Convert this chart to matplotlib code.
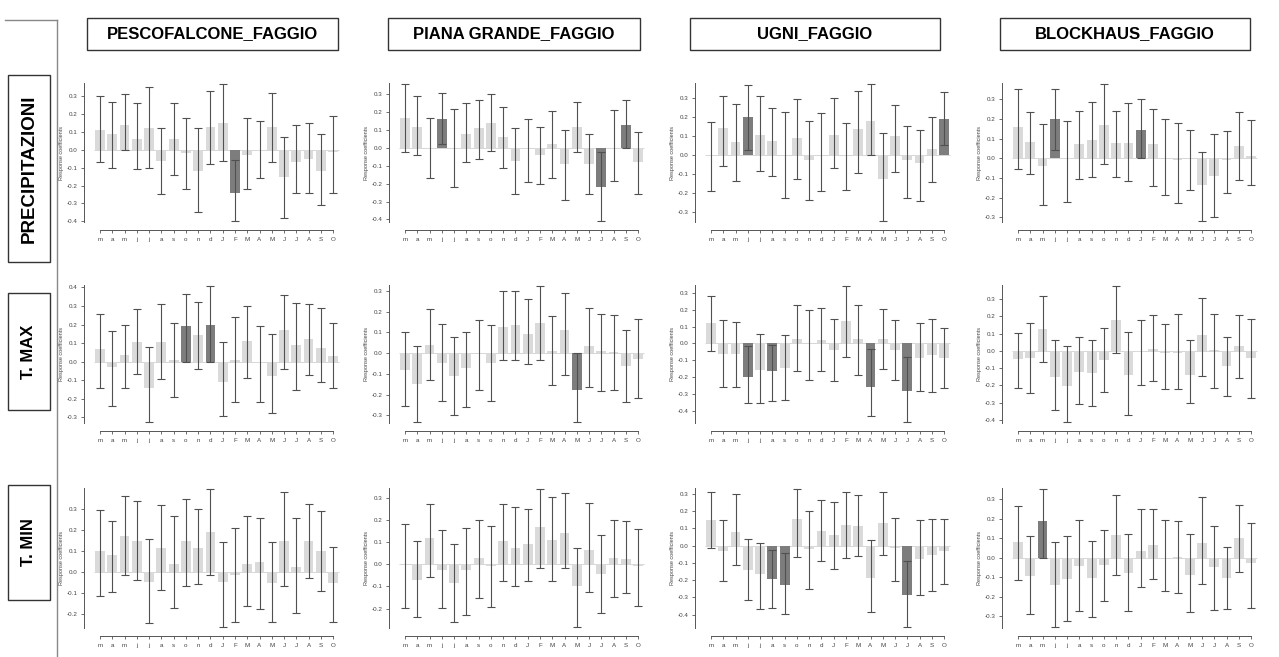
import matplotlib.pyplot as plt
from matplotlib.patches import Rectangle
from matplotlib.lines import Line2D
from matplotlib.ticker import MultipleLocator, FormatStrFormatter

plt.rcParams['axes.unicode_minus'] = False
plt.rcParams['font.family'] = ['Liberation Sans', 'DejaVu Sans']

months = ['m', 'a', 'm', 'j', 'j', 'a', 's', 'o', 'n', 'd',
          'J', 'F', 'M', 'A', 'M', 'J', 'J', 'A', 'S', 'O']
sites = ['PESCOFALCONE_FAGGIO', 'PIANA GRANDE_FAGGIO', 'UGNI_FAGGIO', 'BLOCKHAUS_FAGGIO']
variables = ['PRECIPITAZIONI', 'T. MAX', 'T. MIN']

# ---------------- PRECIPITAZIONI ----------------
pesco_prec_val = [0.11, 0.09, 0.14, 0.06, 0.12, -0.06, 0.06, -0.02, -0.12, 0.13, 0.15, -0.24, -0.03, -0.005, 0.13, -0.15, -0.07, -0.05, -0.12, -0.01]
pesco_prec_low = [-0.07, -0.10, 0.0, -0.11, -0.10, -0.25, -0.14, -0.22, -0.35, -0.08, -0.06, -0.40, -0.22, -0.16, -0.07, -0.38, -0.24, -0.24, -0.31, -0.24]
pesco_prec_up = [0.30, 0.27, 0.31, 0.26, 0.35, 0.12, 0.26, 0.18, 0.12, 0.33, 0.37, -0.055, 0.18, 0.16, 0.32, 0.07, 0.14, 0.15, 0.09, 0.19]
pesco_prec_sig = [11]

piana_prec_val = [0.17, 0.12, 0.0, 0.16, 0.0, 0.08, 0.11, 0.14, 0.06, -0.07, 0.0, -0.04, 0.02, -0.09, 0.12, -0.09, -0.22, 0.0, 0.13, -0.08]
piana_prec_low = [-0.02, -0.04, -0.17, 0.02, -0.22, -0.08, -0.06, -0.015, -0.11, -0.26, -0.19, -0.20, -0.17, -0.29, -0.02, -0.26, -0.41, -0.185, 0.0, -0.26]
piana_prec_up = [0.36, 0.29, 0.17, 0.31, 0.22, 0.25, 0.27, 0.30, 0.23, 0.11, 0.16, 0.12, 0.21, 0.10, 0.26, 0.08, -0.024, 0.215, 0.27, 0.09]
piana_prec_sig = [3, 16, 18]

ugni_prec_val = [0.0, 0.14, 0.065, 0.20, 0.105, 0.07, 0.0, 0.09, -0.03, 0.0, 0.105, 0.0, 0.135, 0.18, -0.13, 0.10, -0.03, -0.045, 0.03, 0.19]
ugni_prec_low = [-0.19, -0.06, -0.14, 0.023, -0.085, -0.11, -0.225, -0.13, -0.24, -0.19, -0.07, -0.185, -0.095, 0.0, -0.35, -0.09, -0.23, -0.245, -0.145, 0.05]
ugni_prec_up = [0.17, 0.31, 0.27, 0.37, 0.31, 0.245, 0.227, 0.296, 0.178, 0.22, 0.30, 0.166, 0.338, 0.374, 0.114, 0.262, 0.149, 0.128, 0.20, 0.33]
ugni_prec_sig = [3, 19]

block_prec_val = [0.16, 0.08, -0.04, 0.20, -0.003, 0.07, 0.09, 0.17, 0.076, 0.076, 0.143, 0.07, 0.0, -0.007, 0.0, -0.135, -0.09, -0.01, 0.06, 0.013]
block_prec_low = [-0.054, -0.079, -0.24, 0.042, -0.224, -0.105, -0.094, -0.029, -0.093, -0.118, 0.0, -0.14, -0.189, -0.229, -0.162, -0.32, -0.30, -0.179, -0.111, -0.135]
block_prec_up = [0.35, 0.236, 0.174, 0.354, 0.187, 0.239, 0.287, 0.378, 0.241, 0.278, 0.30, 0.25, 0.20, 0.179, 0.142, 0.032, 0.121, 0.14, 0.236, 0.192]
block_prec_sig = [3, 10]

# ---------------- T. MAX ----------------
pesco_tmax_val = [0.067, -0.03, 0.035, 0.106, -0.14, 0.106, 0.01, 0.19, 0.143, 0.20, -0.108, 0.007, 0.11, -0.007, -0.078, 0.17, 0.092, 0.12, 0.076, 0.028]
pesco_tmax_low = [-0.143, -0.237, -0.142, -0.067, -0.327, -0.092, -0.189, 0.0, -0.042, 0.0, -0.294, -0.216, -0.088, -0.219, -0.276, -0.039, -0.154, -0.074, -0.108, -0.143]
pesco_tmax_up = [0.258, 0.163, 0.20, 0.281, 0.081, 0.31, 0.209, 0.365, 0.32, 0.409, 0.104, 0.24, 0.30, 0.193, 0.149, 0.359, 0.318, 0.308, 0.287, 0.207]
pesco_tmax_sig = [7, 9]

piana_tmax_val = [-0.084, -0.15, 0.038, -0.047, -0.11, -0.071, 0.0, -0.047, 0.126, 0.133, 0.092, 0.145, 0.008, 0.11, -0.18, 0.032, 0.008, 0.003, -0.06, -0.027]
piana_tmax_low = [-0.257, -0.333, -0.131, -0.23, -0.30, -0.262, -0.178, -0.23, -0.033, -0.033, -0.052, -0.035, -0.152, -0.107, -0.332, -0.163, -0.185, -0.177, -0.234, -0.215]
piana_tmax_up = [0.10, 0.035, 0.213, 0.139, 0.077, 0.10, 0.158, 0.133, 0.30, 0.30, 0.26, 0.324, 0.18, 0.289, 0.0, 0.215, 0.186, 0.183, 0.11, 0.164]
piana_tmax_sig = [14]

ugni_tmax_val = [0.122, -0.062, -0.062, -0.199, -0.159, -0.166, -0.145, 0.023, 0.0, 0.019, -0.039, 0.13, 0.027, -0.257, 0.023, -0.039, -0.284, -0.087, -0.068, -0.087]
ugni_tmax_low = [-0.048, -0.261, -0.261, -0.354, -0.354, -0.342, -0.338, -0.166, -0.217, -0.166, -0.222, -0.083, -0.19, -0.431, -0.151, -0.217, -0.468, -0.282, -0.29, -0.265]
ugni_tmax_up = [0.28, 0.137, 0.128, -0.015, 0.058, -0.01, 0.048, 0.226, 0.199, 0.21, 0.147, 0.342, 0.23, -0.035, 0.205, 0.137, -0.081, 0.118, 0.143, 0.093]
ugni_tmax_sig = [3, 5, 13, 16]

block_tmax_val = [-0.047, -0.042, 0.129, -0.152, -0.203, -0.12, -0.129, -0.055, 0.18, -0.14, -0.006, 0.009, -0.013, -0.013, -0.14, 0.095, 0.006, -0.089, 0.03, -0.044]
block_tmax_low = [-0.214, -0.245, -0.065, -0.345, -0.414, -0.309, -0.317, -0.239, -0.011, -0.374, -0.199, -0.176, -0.222, -0.222, -0.304, -0.144, -0.216, -0.26, -0.159, -0.275]
block_tmax_up = [0.106, 0.159, 0.32, 0.061, 0.028, 0.083, 0.061, 0.135, 0.378, 0.112, 0.178, 0.21, 0.157, 0.212, 0.063, 0.309, 0.214, 0.082, 0.21, 0.186]
block_tmax_sig = []

# ---------------- T. MIN ----------------
pesco_tmin_val = [0.10, 0.078, 0.173, 0.146, -0.049, 0.113, 0.038, 0.148, 0.114, 0.189, -0.049, -0.017, 0.038, 0.046, -0.052, 0.146, 0.025, 0.149, 0.10, -0.052]
pesco_tmin_low = [-0.113, -0.095, -0.013, -0.04, -0.243, -0.087, -0.17, -0.068, -0.057, -0.014, -0.263, -0.24, -0.16, -0.178, -0.24, -0.068, -0.195, -0.029, -0.092, -0.24]
pesco_tmin_up = [0.295, 0.244, 0.36, 0.337, 0.156, 0.319, 0.267, 0.346, 0.297, 0.395, 0.141, 0.211, 0.267, 0.257, 0.14, 0.379, 0.257, 0.325, 0.289, 0.119]
pesco_tmin_sig = []

piana_tmin_val = [0.0, -0.069, 0.119, -0.026, -0.083, -0.026, 0.03, -0.008, 0.107, 0.075, 0.094, 0.169, 0.11, 0.143, -0.10, 0.065, -0.044, 0.03, 0.026, -0.005]
piana_tmin_low = [-0.198, -0.237, -0.059, -0.198, -0.261, -0.228, -0.152, -0.195, -0.077, -0.098, -0.077, -0.017, -0.077, -0.017, -0.284, -0.127, -0.22, -0.149, -0.131, -0.19]
piana_tmin_up = [0.182, 0.104, 0.275, 0.158, 0.094, 0.166, 0.20, 0.176, 0.275, 0.261, 0.252, 0.342, 0.303, 0.324, 0.074, 0.279, 0.134, 0.20, 0.196, 0.16]
piana_tmin_sig = []

ugni_tmin_val = [0.146, -0.029, 0.079, -0.142, -0.167, -0.196, -0.227, 0.152, -0.021, 0.083, 0.06, 0.121, 0.112, -0.188, 0.129, -0.017, -0.285, -0.075, -0.054, -0.029]
ugni_tmin_low = [-0.012, -0.206, -0.113, -0.315, -0.367, -0.36, -0.398, -0.065, -0.252, -0.092, -0.138, -0.071, -0.063, -0.387, -0.052, -0.204, -0.473, -0.285, -0.263, -0.223]
ugni_tmin_up = [0.31, 0.15, 0.296, 0.04, 0.013, -0.027, -0.042, 0.329, 0.198, 0.262, 0.254, 0.31, 0.292, 0.031, 0.31, 0.158, -0.092, 0.15, 0.154, 0.154]
ugni_tmin_sig = [5, 6, 16]

block_tmin_val = [0.081, -0.094, 0.19, -0.139, -0.108, -0.041, -0.103, -0.039, 0.115, -0.077, 0.034, 0.067, 0.0, 0.003, -0.087, 0.077, -0.048, -0.103, 0.101, -0.026]
block_tmin_low = [-0.113, -0.288, 0.0, -0.357, -0.326, -0.271, -0.302, -0.223, -0.087, -0.271, -0.151, -0.111, -0.17, -0.18, -0.279, -0.137, -0.266, -0.262, -0.074, -0.256]
block_tmin_up = [0.266, 0.111, 0.355, 0.081, 0.11, 0.192, 0.086, 0.141, 0.324, 0.12, 0.252, 0.252, 0.194, 0.189, 0.12, 0.312, 0.166, 0.058, 0.273, 0.178]
block_tmin_sig = [2]

panels = [
    [(pesco_prec_val, pesco_prec_low, pesco_prec_up, pesco_prec_sig),
     (piana_prec_val, piana_prec_low, piana_prec_up, piana_prec_sig),
     (ugni_prec_val, ugni_prec_low, ugni_prec_up, ugni_prec_sig),
     (block_prec_val, block_prec_low, block_prec_up, block_prec_sig)],
    [(pesco_tmax_val, pesco_tmax_low, pesco_tmax_up, pesco_tmax_sig),
     (piana_tmax_val, piana_tmax_low, piana_tmax_up, piana_tmax_sig),
     (ugni_tmax_val, ugni_tmax_low, ugni_tmax_up, ugni_tmax_sig),
     (block_tmax_val, block_tmax_low, block_tmax_up, block_tmax_sig)],
    [(pesco_tmin_val, pesco_tmin_low, pesco_tmin_up, pesco_tmin_sig),
     (piana_tmin_val, piana_tmin_low, piana_tmin_up, piana_tmin_sig),
     (ugni_tmin_val, ugni_tmin_low, ugni_tmin_up, ugni_tmin_sig),
     (block_tmin_val, block_tmin_low, block_tmin_up, block_tmin_sig)],
]

W, H = 1279, 657
fig = plt.figure(figsize=(W / 100, H / 100), dpi=100)
fig.patch.set_facecolor('white')


def px_rect(x0, y0, x1, y1):
    # pixel box (top-left origin) -> figure fraction
    return [x0 / W, 1 - y1 / H, (x1 - x0) / W, (y1 - y0) / H]


first_bar = [100, 405, 711, 1018]
spacing = 12.27
row_y = [(83, 222), (285, 423), (488, 628)]
xl, xr = -1.3, 19.7

for r in range(3):
    for c in range(4):
        val, low, up, sig = panels[r][c]
        x0 = first_bar[c] + xl * spacing
        x1 = first_bar[c] + xr * spacing
        ax = fig.add_axes(px_rect(x0, row_y[r][0], x1, row_y[r][1]))
        x = list(range(len(months)))
        colors = ['#7d7d7d' if i in sig else '#dadada' for i in x]
        ax.hlines(0, -0.5, 19.5, color='#d0d0d0', lw=0.6, zorder=1)
        ax.bar(x, val, width=0.8, color=colors, zorder=2)
        err_lo = [v - l for v, l in zip(val, low)]
        err_hi = [u - v for v, u in zip(val, up)]
        ax.errorbar(x, val, yerr=[err_lo, err_hi], fmt='none', ecolor='#505050',
                    elinewidth=0.8, capsize=2.6, capthick=0.8, zorder=3)
        ax.set_xlim(xl, xr)
        ax.set_ylim(min(low) - 0.004, max(up) + 0.004)
        for s in ['top', 'right']:
            ax.spines[s].set_visible(False)
        ax.spines['left'].set_color('#555555')
        ax.spines['left'].set_linewidth(0.7)
        ax.spines['bottom'].set_color('#555555')
        ax.spines['bottom'].set_linewidth(0.7)
        ax.spines['bottom'].set_position(('outward', 6))
        ax.spines['bottom'].set_bounds(0, 19)
        ax.set_xticks(x)
        ax.set_xticklabels(months)
        ax.yaxis.set_major_locator(MultipleLocator(0.1))
        ax.yaxis.set_major_formatter(FormatStrFormatter('%.1f'))
        ax.tick_params(axis='both', labelsize=4.5, colors='#555555', labelcolor='#444444',
                       length=2.5, width=0.6, pad=2)
        ax.set_ylabel('Response coefficients', fontsize=4, color='#444444', labelpad=2)
        ax.patch.set_alpha(0)

# column headers
header_x = [(87, 338), (388, 640), (690, 940), (1000, 1250)]
for (hx0, hx1), name in zip(header_x, sites):
    fig.patches.append(Rectangle((hx0 / W, 1 - 50 / H), (hx1 - hx0) / W, 32 / H,
                                 transform=fig.transFigure, fill=False,
                                 edgecolor='#333333', lw=1.0))
    fig.text((hx0 + hx1) / 2 / W, 1 - 34 / H, name, ha='center', va='center',
             fontsize=12, fontweight='bold', color='black')

# row labels
row_box = [(75, 262), (293, 410), (485, 600)]
row_fs = [13.5, 12, 12]
for (ry0, ry1), name, fs in zip(row_box, variables, row_fs):
    fig.patches.append(Rectangle((8 / W, 1 - ry1 / H), 42 / W, (ry1 - ry0) / H,
                                 transform=fig.transFigure, fill=False,
                                 edgecolor='#333333', lw=1.0))
    fig.text(29 / W, 1 - (ry0 + ry1) / 2 / H, name, ha='center', va='center',
             rotation=90, fontsize=fs, fontweight='bold', color='black')

# frame lines
fig.lines.append(Line2D([57 / W, 57 / W], [1 - 20 / H, 0], transform=fig.transFigure,
                        color='#888888', lw=1.0))
fig.lines.append(Line2D([5 / W, 57 / W], [1 - 20 / H, 1 - 20 / H], transform=fig.transFigure,
                        color='#888888', lw=1.0))

fig.savefig('out.png', dpi=100)
